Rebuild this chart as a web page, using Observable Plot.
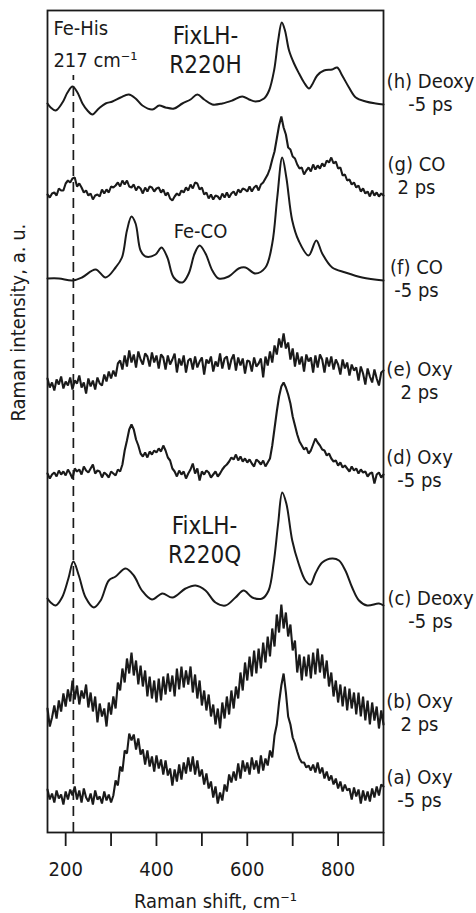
<!DOCTYPE html>
<html>
<head>
<meta charset="utf-8">
<script src="https://cdn.jsdelivr.net/npm/d3@7"></script>
<script src="https://cdn.jsdelivr.net/npm/@observablehq/plot@0.6"></script>
<style>
  html, body { margin: 0; padding: 0; background: #fff; }
  #chart svg { display: block; }
</style>
</head>
<body>
<div id="chart"></div>
<script>
// ---------------- DATA ----------------
const xTicks = [200, 300, 400, 500, 600, 700, 800, 900];
const xTickLabels = ["200", "", "400", "", "600", "", "800", ""];

const seriesNames = ["h", "g", "f", "e", "d", "c", "b", "a"];
const seriesLabels = [
  "(h) Deoxy\n-5 ps", "(g) CO\n2 ps", "(f) CO\n-5 ps", "(e) Oxy\n2 ps",
  "(d) Oxy\n-5 ps", "(c) Deoxy\n-5 ps", "(b) Oxy\n2 ps", "(a) Oxy\n-5 ps"
];
// vertical stacking offsets (a.u.)
const offsets = [728, 637, 552, 454, 357, 227, 112, 39];

const feHisShift = 217;

// smooth traces (h, f, c)
const hShift = [160,167,178,193,204,215,226,237,248,259,273,288,303,321,339,354,369,391,406,420,439,457,475,490,505,523,545,567,589,604,618,637,648,659,668,676,683,692,703,714,725,736,743,754,769,787,798,809,824,839,861,883,900];
const hValue = [1,-3,-6,2,12,18,12,1,-6,-10,-4,1,3,7,10,6,-1,-5,-1,-3,-4,1,5,10,5,0,1,4,8,5,3,6,14,34,64,82,74,54,41,31,22,16,20,29,34,35,37,29,17,7,3,1,0];

const fShift = [160,185,215,236,266,288,310,324,335,345,354,365,376,398,411,424,438,457,471,484,495,508,523,537,559,581,596,618,640,655,666,677,686,699,713,735,752,765,787,816,853,900];
const fValue = [2,2,0,3,11,3,13,23,50,64,57,30,24,26,33,23,3,-2,7,27,35,27,10,2,4,12,13,7,13,37,83,123,103,60,40,25,40,27,13,8,3,0];

const cShift = [160,167,178,192,206,217,229,244,262,277,295,310,332,350,368,390,413,435,464,486,508,530,552,574,592,611,633,647,658,668,677,686,699,713,728,739,750,765,787,802,816,831,846,864,890,900];
const cValue = [7,3,0,8,27,44,30,8,-2,5,25,29,37,30,15,6,12,8,17,20,15,3,0,8,15,8,7,15,42,82,113,102,65,42,25,21,32,43,47,45,35,18,5,0,2,0];

// noisy traces (g, e, d, b, a) sampled every 5 cm-1
const noisyShift = [160,165,170,175,180,185,190,195,200,205,210,215,220,225,230,235,240,245,250,255,260,265,270,275,280,285,290,295,300,305,310,315,320,325,330,335,340,345,350,355,360,365,370,375,380,385,390,395,400,405,410,415,420,425,430,435,440,445,450,455,460,465,470,475,480,485,490,495,500,505,510,515,520,525,530,535,540,545,550,555,560,565,570,575,580,585,590,595,600,605,610,615,620,625,630,635,640,645,650,655,660,665,670,675,680,685,690,695,700,705,710,715,720,725,730,735,740,745,750,755,760,765,770,775,780,785,790,795,800,805,810,815,820,825,830,835,840,845,850,855,860,865,870,875,880,885,890,895,900];

const gValue = [1,-2,2,3,0,7,5,5,12,
  15,13,17,18,9,12,8,3,5,0,
  2,-4,0,1,-1,6,2,6,3,9,
  8,10,13,9,15,11,15,9,8,11,
  5,9,7,2,8,4,9,8,4,7,
  8,3,6,0,3,-3,-5,-1,2,0,
  5,3,8,5,11,7,13,12,6,8,
  1,3,-3,1,-4,0,-1,-4,2,-2,
  3,-2,2,4,0,6,3,7,6,4,
  9,4,8,10,5,11,13,17,21,27,
  36,44,57,70,79,68,61,48,46,39,
  37,31,27,28,21,25,28,24,31,26,
  30,27,32,29,35,33,38,32,34,27,
  28,20,21,15,16,11,13,8,10,4,
  7,2,4,-1,5,0,3,-1,2,0];

const eValue = [0,-9,-4,-12,-1,-6,2,-10,-3,
  -7,1,-11,-2,-5,3,-9,-4,-15,0,
  -8,-2,-11,1,-5,-7,4,-3,7,0,
  8,2,15,18,9,23,12,28,16,24,
  11,27,19,14,25,22,12,26,16,23,
  10,24,21,9,23,14,19,25,6,20,
  13,23,6,18,20,9,22,11,17,21,
  4,19,15,22,7,17,12,25,10,20,
  22,9,19,24,8,21,13,20,5,18,
  17,7,21,12,15,20,1,22,13,27,
  16,33,24,40,31,45,30,36,19,30,
  12,26,14,22,7,24,17,21,6,23,
  11,24,19,6,21,12,22,9,19,14,
  4,19,10,16,3,14,8,11,-2,12,
  5,-6,10,2,-4,9,0,-7,6,8];

const dValue = [2,-3,1,3,-1,5,1,4,0,
  6,2,-3,7,4,6,1,9,5,3,
  7,11,2,5,4,-2,3,1,-2,4,
  2,0,6,4,11,25,35,46,51,46,
  36,30,22,19,23,18,24,21,25,23,
  27,24,30,25,18,15,7,4,-1,5,
  1,4,-3,2,6,12,2,7,-5,4,
  1,5,3,-2,1,4,-1,2,6,9,
  11,14,18,16,21,15,19,14,17,13,
  16,12,9,16,14,11,15,9,13,17,
  30,47,64,79,89,93,88,81,72,59,
  50,41,34,30,26,28,22,25,31,37,
  33,30,26,25,20,22,17,14,15,10,
  13,8,10,7,4,9,5,7,2,6,
  3,4,-1,2,3,-8,1,3,-2,1];

const bValue = [12,-6,3,15,2,20,9,27,14,
  31,19,40,21,35,16,30,22,36,13,
  28,9,24,-2,17,4,12,-6,18,6,
  24,12,38,30,52,38,62,47,68,45,
  60,36,55,34,50,24,44,22,40,18,
  42,20,44,26,47,29,45,24,52,31,
  54,33,50,36,54,28,46,22,40,15,
  30,10,26,4,16,-4,12,-8,18,2,
  24,6,30,12,34,22,48,30,58,40,
  64,44,70,47,72,52,78,58,84,64,
  92,74,106,88,116,92,108,84,96,70,
  80,48,66,40,64,44,66,42,68,46,
  72,48,66,42,60,34,48,24,40,18,
  36,14,34,10,32,12,28,6,28,4,
  24,0,20,-4,18,0,14,-8,10,-4];

const aValue = [4,-6,0,-9,3,-5,-1,-11,2,
  -6,4,-2,7,-6,3,-9,5,-4,-8,
  0,-11,3,-6,-3,-10,2,-7,-1,-9,
  -2,13,8,27,22,43,40,60,53,59,
  44,55,39,44,29,43,27,37,22,38,
  25,34,19,33,18,25,8,24,12,29,
  14,31,20,36,22,37,19,33,17,24,
  9,20,5,12,-4,7,-10,1,-7,9,
  2,19,11,22,13,30,15,33,22,31,
  19,36,24,33,20,38,23,35,28,43,
  36,58,69,91,108,120,101,77,69,56,
  50,42,35,31,31,26,28,23,29,21,
  31,20,26,15,22,13,18,9,15,5,
  12,2,9,3,5,-6,6,-3,4,-10,
  3,-7,2,-8,5,-4,7,-2,9,7];

// ---------------- BUILD ----------------
const ink = "#1a1a1a";
const font = "'DejaVu Sans Condensed', 'Liberation Sans', sans-serif";

const smoothSets = {h: [hShift, hValue], f: [fShift, fValue], c: [cShift, cValue]};
const noisySets = {g: gValue, e: eValue, d: dValue, b: bValue, a: aValue};

const smoothRows = [];
const noisyRows = [];
seriesNames.forEach((name, i) => {
  if (smoothSets[name]) {
    const [xs, vs] = smoothSets[name];
    xs.forEach((x, j) => smoothRows.push({series: name, shift: x, value: offsets[i] + vs[j]}));
  } else {
    const vs = noisySets[name];
    noisyShift.forEach((x, j) => noisyRows.push({series: name, shift: x, value: offsets[i] + vs[j]}));
  }
});

// label placement tweaks (pixel units == a.u. here)
const labelNudge = [-12.5, -20, -2, 2, -7, 4, -8, -5];
const labelDx = {Deoxy: 47, Oxy: 36, CO: 33};

const labelMarks = seriesLabels.map((lab, i) => {
  const kind = lab.includes("Deoxy") ? "Deoxy" : lab.includes("Oxy") ? "Oxy" : "CO";
  return Plot.text([lab], {
    x: () => 900, y: () => offsets[i] - labelNudge[i],
    text: d => d, textAnchor: "middle", lineAnchor: "middle",
    lineHeight: 1.15, dx: labelDx[kind], fontSize: 20, fill: ink, clip: false
  });
});

const chart = Plot.plot({
  width: 476,
  height: 913,
  marginLeft: 47,
  marginRight: 93,
  marginTop: 10,
  marginBottom: 81,
  style: {fontFamily: font, fontSize: "20px", color: ink, background: "#fff", overflow: "visible"},
  x: {domain: [160, 900]},
  y: {domain: [0, 822], axis: null},
  marks: [
    Plot.ruleX([feHisShift], {y1: 0, y2: 757, stroke: ink, strokeWidth: 1.7, strokeDasharray: "10,6"}),
    Plot.line(noisyRows, {x: "shift", y: "value", z: "series", stroke: ink, strokeWidth: 2.1, strokeLinejoin: "miter"}),
    Plot.line(smoothRows, {x: "shift", y: "value", z: "series", stroke: ink, strokeWidth: 2, curve: "catmull-rom"}),
    Plot.frame({stroke: ink, strokeWidth: 1.8}),
    Plot.axisX({ticks: xTicks, tickSize: 14, tickPadding: 15, strokeWidth: 1.8, stroke: ink,
      tickFormat: d => xTickLabels[xTicks.indexOf(d)], label: null, fontSize: 20}),
    Plot.text(["Raman shift, cm\u207B\u00B9"], {frameAnchor: "bottom", dy: 69, lineAnchor: "middle", fontSize: 20, fill: ink}),
    Plot.text(["Raman intensity, a. u."], {frameAnchor: "left", dx: -29, rotate: -90, lineAnchor: "middle", fontSize: 20, fill: ink}),
    Plot.text(["Fe-His"], {x: () => 173, y: () => 803.5, textAnchor: "start", lineAnchor: "middle", fontSize: 20, fill: ink}),
    Plot.text(["217 cm\u207B\u00B9"], {x: () => 173, y: () => 772, textAnchor: "start", lineAnchor: "middle", fontSize: 20, fill: ink}),
    Plot.text(["FixLH-\nR220H"], {x: () => 508, y: () => 783.5, textAnchor: "middle", lineAnchor: "middle", lineHeight: 1.2, fontSize: 24, fill: ink}),
    Plot.text(["FixLH-\nR220Q"], {x: () => 506, y: () => 293.5, textAnchor: "middle", lineAnchor: "middle", lineHeight: 1.2, fontSize: 24, fill: ink}),
    Plot.text(["Fe-CO"], {x: () => 497, y: () => 601, textAnchor: "middle", lineAnchor: "middle", fontSize: 20, fill: ink}),
    ...labelMarks
  ]
});
document.getElementById("chart").appendChild(chart);
</script>
</body>
</html>
